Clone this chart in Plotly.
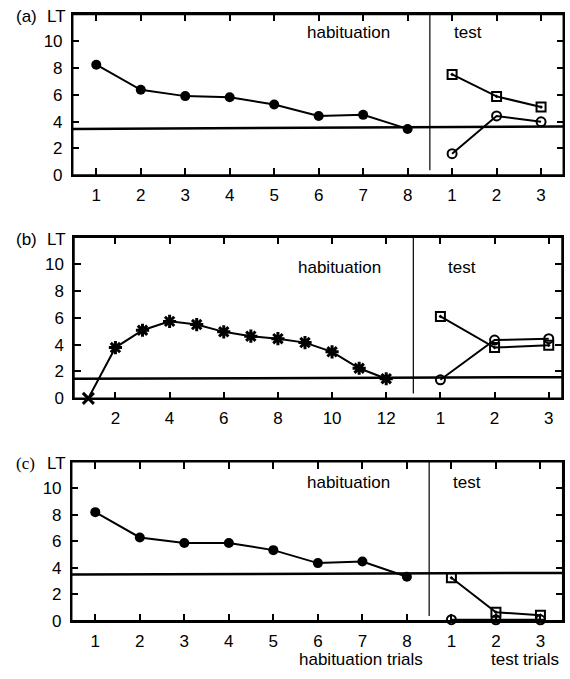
import plotly.graph_objects as go

# ---------------- data ----------------
hab_a = [8.25, 6.37, 5.9, 5.82, 5.28, 4.42, 4.5, 3.45]
test_sq_a = [7.52, 5.88, 5.08]
test_ci_a = [1.6, 4.42, 3.98]
crit_a = [3.45, 3.63]

hab_b = [0.0, 3.78, 5.07, 5.73, 5.49, 4.95, 4.63, 4.44, 4.15, 3.46, 2.24, 1.46]
test_sq_b = [6.1, 3.78, 3.95]
test_ci_b = [1.38, 4.34, 4.44]
crit_b = [1.46, 1.58]

hab_c = [8.2, 6.29, 5.87, 5.87, 5.33, 4.35, 4.47, 3.32]
test_sq_c = [3.24, 0.64, 0.42]
test_ci_c = [0.08, 0.07, 0.07]
crit_c = [3.49, 3.61]

test_labels = ["1", "2", "3"]
y_ticks = [0, 2, 4, 6, 8, 10]

FONT = "Liberation Sans, Arial, Helvetica, sans-serif"
W, H = 570, 679

fig = go.Figure()

def px_x(v):
    return v / W

def px_y(v):
    return 1 - v / H

panels = [
    dict(tag="(a)", hab=hab_a, sq=test_sq_a, ci=test_ci_a, crit=crit_a, step=1, tstep=1,
         box=(72.7, 563.3, 14.7, 177.7), labfont=FONT, hab_sym="circle",
         hab_txt=(305, 33), test_txt=(452, 33)),
    dict(tag="(b)", hab=hab_b, sq=test_sq_b, ci=test_ci_b, crit=crit_b, step=2, tstep=2,
         box=(74.0, 562.0, 240.7, 404.3), labfont=FONT, hab_sym="asterisk-open",
         hab_txt=(296, 272), test_txt=(446, 272)),
    dict(tag="(c)", hab=hab_c, sq=test_sq_c, ci=test_ci_c, crit=crit_c, step=1, tstep=1,
         box=(71.7, 562.7, 468.7, 630.0), labfont="Liberation Serif, Times New Roman, serif",
         hab_sym="circle", hab_txt=(305, 490), test_txt=(451, 490)),
]

layout_axes = {}
shapes = []
annotations = []

for i, p in enumerate(panels, start=1):
    xa = "x" if i == 1 else f"x{i}"
    ya = "y" if i == 1 else f"y{i}"
    xkey = "xaxis" if i == 1 else f"xaxis{i}"
    ykey = "yaxis" if i == 1 else f"yaxis{i}"
    n = len(p["hab"])
    hab_x = list(range(1, n + 1))
    test_x = [n + p["tstep"] * k for k in range(1, 4)]
    divider = n + p["tstep"] / 2

    if p["hab_sym"] == "circle":
        marker = dict(symbol="circle", size=10, color="black")
    else:
        marker = dict(symbol=["x-thin-open"] + ["asterisk-open"] * (n - 1), size=11,
                      color="black", line=dict(color="black", width=3))
    fig.add_trace(go.Scatter(x=hab_x, y=p["hab"], mode="lines+markers", xaxis=xa, yaxis=ya,
                             line=dict(color="black", width=2), marker=marker,
                             cliponaxis=False, showlegend=False))
    fig.add_trace(go.Scatter(x=test_x, y=p["sq"], mode="lines+markers", xaxis=xa, yaxis=ya,
                             line=dict(color="black", width=2),
                             marker=dict(symbol="square-open-dot", size=9, color="black",
                                         line=dict(color="black", width=2)),
                             cliponaxis=False, showlegend=False))
    fig.add_trace(go.Scatter(x=test_x, y=p["ci"], mode="lines+markers", xaxis=xa, yaxis=ya,
                             line=dict(color="black", width=2),
                             marker=dict(symbol="circle-open", size=9, color="black",
                                         line=dict(color="black", width=2)),
                             cliponaxis=False, showlegend=False))

    l, r, t, b = p["box"]
    if p["step"] == 1:
        hab_ticks = hab_x
    else:
        hab_ticks = [v for v in hab_x if v % 2 == 0]
    tickvals = hab_ticks + test_x
    ticktext = [str(v) for v in hab_ticks] + test_labels
    x_lo = 1 - 0.53
    x_hi = test_x[-1] + 0.5 * p["tstep"] if p["tstep"] == 1 else test_x[-1] + 0.49

    layout_axes[xkey] = dict(domain=[px_x(l), px_x(r)], anchor=ya, range=[x_lo, x_hi],
                             tickmode="array", tickvals=tickvals, ticktext=ticktext,
                             ticks="inside", ticklen=7, tickwidth=1.6, tickcolor="black",
                             showline=True, linecolor="black", linewidth=1.5, mirror="allticks",
                             showgrid=False, zeroline=False,
                             tickfont=dict(family=FONT, size=17, color="black"),
                             ticklabelstandoff=4)
    layout_axes[ykey] = dict(domain=[px_y(b), px_y(t)], anchor=xa, range=[0, 12],
                             tickmode="array", tickvals=y_ticks,
                             ticks="inside", ticklen=7, tickwidth=1.6, tickcolor="black",
                             showline=True, linecolor="black", linewidth=1.5, mirror="allticks",
                             showgrid=False, zeroline=False,
                             tickfont=dict(family=FONT, size=17, color="black"),
                             ticklabelstandoff=5)

    # frame
    shapes.append(dict(type="rect", xref=f"{xa} domain", yref=f"{ya} domain", x0=0, x1=1,
                       y0=0, y1=1, line=dict(color="black", width=1.5), layer="above"))
    # criterion line
    shapes.append(dict(type="line", xref=f"{xa} domain", yref=ya, x0=0, x1=1,
                       y0=p["crit"][0], y1=p["crit"][1], line=dict(color="black", width=2.5)))
    # divider
    shapes.append(dict(type="line", xref=xa, yref=f"{ya} domain", x0=divider, x1=divider,
                       y0=0.03, y1=1, line=dict(color="black", width=1.2)))

    annotations.append(dict(text=p["tag"], xref="paper", yref="paper", x=px_x(14),
                            y=px_y(t + 2), xanchor="left", yanchor="middle", showarrow=False,
                            font=dict(family=p["labfont"], size=17, color="black")))
    annotations.append(dict(text="LT", xref="paper", yref="paper", x=px_x(45),
                            y=px_y(t + 2), xanchor="left", yanchor="middle", showarrow=False,
                            font=dict(family=FONT, size=17, color="black")))
    annotations.append(dict(text="habituation", xref="paper", yref="paper",
                            x=px_x(p["hab_txt"][0]), y=px_y(p["hab_txt"][1]),
                            xanchor="left", yanchor="middle", showarrow=False,
                            font=dict(family=FONT, size=17, color="black")))
    annotations.append(dict(text="test", xref="paper", yref="paper",
                            x=px_x(p["test_txt"][0]), y=px_y(p["test_txt"][1]),
                            xanchor="left", yanchor="middle", showarrow=False,
                            font=dict(family=FONT, size=17, color="black")))

annotations.append(dict(text="habituation trials", xref="paper", yref="paper",
                        x=px_x(361), y=px_y(669), xanchor="center", yanchor="middle",
                        showarrow=False, font=dict(family=FONT, size=17, color="black")))
annotations.append(dict(text="test trials", xref="paper", yref="paper",
                        x=px_x(561), y=px_y(669), xanchor="right", yanchor="middle",
                        showarrow=False, font=dict(family=FONT, size=17, color="black")))

fig.update_layout(width=W, height=H, margin=dict(l=0, r=0, t=0, b=0),
                  paper_bgcolor="white", plot_bgcolor="white",
                  shapes=shapes, annotations=annotations, **layout_axes)

fig.write_html("out.html", config={"displayModeBar": False},
               post_script="document.body.style.margin='0';document.body.style.overflow='hidden';")
